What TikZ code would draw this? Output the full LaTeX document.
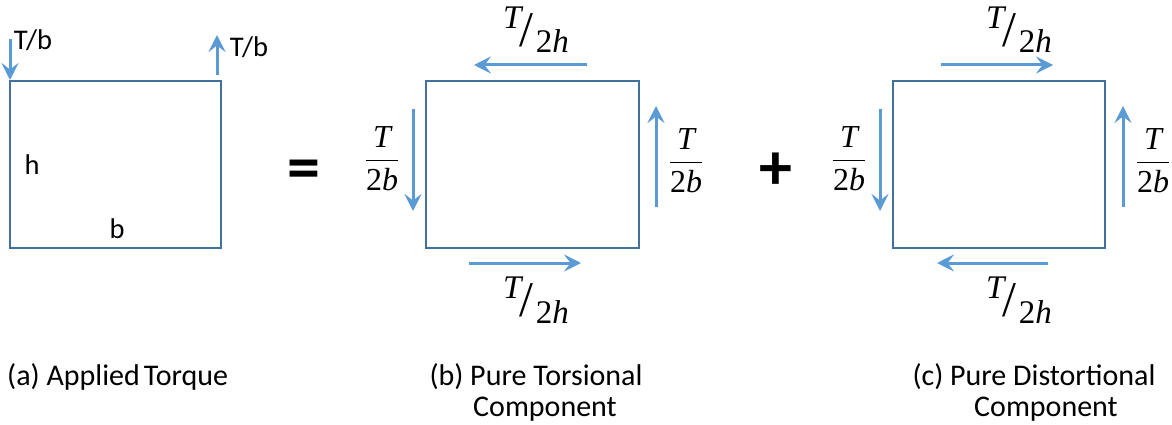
\RequirePackage{fix-cm}
\documentclass[tikz,border=0pt]{standalone}
\usepackage{graphicx}
\usepackage{fontspec}
\setmainfont{Carlito}
\newfontfamily\mathserif{Liberation Serif}
\usetikzlibrary{arrows.meta}
\definecolor{boxblue}{HTML}{41719C}
\definecolor{arrowblue}{HTML}{5B9BD5}
\newcommand{\mv}[1]{{\mathserif\itshape #1}}
\newcommand{\mn}[1]{{\mathserif #1}}
\newcommand{\vfr}[2]{$\displaystyle\frac{\hbox{#1}}{\hbox{#2}}$}
\newcommand{\sfr}[2]{\hbox{\raisebox{18pt}{#1}\kern-1.5pt{\fontsize{50}{50}\selectfont\mathserif /}\kern 2pt\raisebox{-6.5pt}{#2}}}
\begin{document}
\begin{tikzpicture}[x=1pt,y=-1pt,
  panel/.style={draw=boxblue, line width=1.3pt, fill=none, inner sep=0pt, minimum height=167pt},
  force/.style={draw=arrowblue, line width=3pt, -{Stealth[length=17pt,width=17pt,inset=6.5pt]}},
  lbl/.style={inner sep=0pt, anchor=base, font=\fontsize{28.5}{34}\selectfont},
  mlbl/.style={inner sep=0pt, font=\fontsize{32}{38}\selectfont},
  slbl/.style={inner sep=0pt, anchor=base, font=\fontsize{33}{39}\selectfont},
  oplbl/.style={inner sep=0pt, anchor=base, font=\fontsize{66}{70}\selectfont\bfseries},
  caplbl/.style={inner sep=0pt, font=\fontsize{30}{32}\selectfont}]
\useasboundingbox (0,0) rectangle (1172,425);

% panel (a)
\node[panel, minimum width=211pt] (A) at (115.5,164.5) {};
\coordinate (a1s) at (10,39);  \coordinate (a1e) at (10,80);
\coordinate (a2s) at (217,75); \coordinate (a2e) at (217,35);
\draw[force] (a1s) -- (a1e);
\draw[force] (a2s) -- (a2e);
\node[lbl] (atl) at (33,50) {T/b};
\node[lbl] (atr) at (249,57) {T/b};
\node[lbl] (ah) at (32,174) {h};
\node[lbl] (ab) at (117,238) {b};

\node[oplbl] (eq) at (303.5,189.5) {=};

% panel (b)
\node[panel, minimum width=213pt] (B) at (532.5,164.5) {};
\coordinate (bts) at (587,65);  \coordinate (bte) at (474,65);
\coordinate (bls) at (413,109); \coordinate (ble) at (413,211);
\coordinate (brs) at (656,207); \coordinate (bre) at (656,106);
\coordinate (bbs) at (469,263); \coordinate (bbe) at (581,263);
\draw[force] (bts) -- (bte);
\draw[force] (bls) -- (ble);
\draw[force] (brs) -- (bre);
\draw[force] (bbs) -- (bbe);
\node[slbl] (btl) at (536,46.5) {\sfr{\mv{T}}{\mn{2}\mv{h}}};
\node[slbl] (bbl) at (536,316.5) {\sfr{\mv{T}}{\mn{2}\mv{h}}};
\node[mlbl] (bll) at (382,158.5) {\vfr{\mv{T}}{\mn{2}\mv{b}}};
\node[mlbl] (brl) at (686,160.5) {\vfr{\mv{T}}{\mn{2}\mv{b}}};

\node[oplbl] (plus) at (776,189) {+};

% panel (c)
\node[panel, minimum width=212pt] (C) at (999,164.5) {};
\coordinate (cts) at (941,65);   \coordinate (cte) at (1053,65);
\coordinate (cls) at (880,109);  \coordinate (cle) at (880,211);
\coordinate (crs) at (1123,207); \coordinate (cre) at (1123,106);
\coordinate (cbs) at (1048,263); \coordinate (cbe) at (937,263);
\draw[force] (cts) -- (cte);
\draw[force] (cls) -- (cle);
\draw[force] (crs) -- (cre);
\draw[force] (cbs) -- (cbe);
\node[slbl] (ctl) at (1019,46.5) {\sfr{\mv{T}}{\mn{2}\mv{h}}};
\node[slbl] (cbl) at (1019,316.5) {\sfr{\mv{T}}{\mn{2}\mv{h}}};
\node[mlbl] (cll) at (849,158.5) {\vfr{\mv{T}}{\mn{2}\mv{b}}};
\node[mlbl] (crl) at (1153,160.5) {\vfr{\mv{T}}{\mn{2}\mv{b}}};

% captions
\node[caplbl, anchor=base west] (capa) at (7,385) {(a) Applied\hspace{4pt}Torque};
\node[caplbl, anchor=base] (capb1) at (536,385) {(b) Pure Torsional};
\node[caplbl, anchor=base] (capb2) at (545,416) {Component};
\node[caplbl, anchor=base] (capc1) at (1034,385) {(c) Pure Distortional};
\node[caplbl, anchor=base] (capc2) at (1046,416) {Component};
\end{tikzpicture}
\end{document}
